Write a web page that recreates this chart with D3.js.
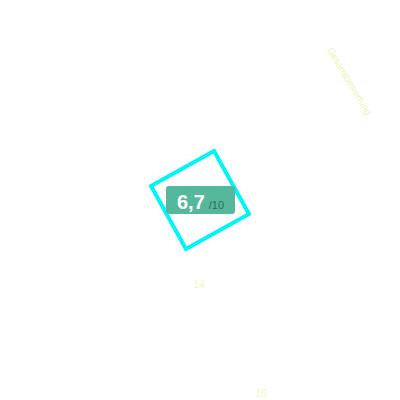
<!DOCTYPE html>
<html><head><meta charset="utf-8">
<script src="https://cdn.jsdelivr.net/npm/d3@7"></script>
<style>html,body{margin:0;padding:0;background:#fff;}svg{display:block;}</style>
</head><body>
<script>
const score = [6.7];
const scoreMax = [10];
const tickLabels = ["14", "16"];
const cornerLabel = ["Gesamtbewertung"];

const W = 400, H = 400;
const svg = d3.select("body").append("svg").attr("width", W).attr("height", H);

// scale for label positions
const x = d3.scaleLinear().domain([14, 16]).range([199, 261]);
const y = d3.scaleLinear().domain([14, 16]).range([288, 397]);

// rotated square frame
const side = d3.scaleLinear().domain([0, 10]).range([0, 72]);
const s = side(scoreMax[0]);
svg.append("rect")
  .attr("x", -s/2).attr("y", -s/2).attr("width", s).attr("height", s)
  .attr("fill", "none").attr("stroke", "#00f5f5").attr("stroke-width", 4)
  .attr("transform", "translate(200,200) rotate(-29)");

// badge
const g = svg.append("g").attr("transform", "translate(166,186)");
g.append("rect").attr("width", 69).attr("height", 28).attr("rx", 3)
  .attr("fill", "#55b79b");
const t = g.append("text").attr("x", 11).attr("y", 23)
  .attr("font-family", "Liberation Sans, Arial, sans-serif");
t.append("tspan").attr("fill", "#fff").attr("font-weight", "bold").attr("font-size", 20)
  .text(d3.format(".1f")(score[0]).replace(".", ","));
t.append("tspan").attr("fill", "#2f6e5a").attr("font-size", 11).attr("dx", 4)
  .text("/" + scoreMax[0]);

// tick labels
svg.selectAll("text.tick").data(tickLabels).enter().append("text")
  .attr("class", "tick")
  .attr("x", d => x(+d)).attr("y", d => y(+d))
  .attr("text-anchor", "middle")
  .attr("font-family", "Liberation Sans, Arial, sans-serif")
  .attr("font-size", 11).attr("fill", "#eef7c4")
  .text(d => d);

// rotated corner label
svg.append("text")
  .attr("transform", "translate(327,50) rotate(59)")
  .attr("font-family", "Liberation Sans, Arial, sans-serif")
  .attr("font-size", 9.4).attr("fill", "#ecf5b0")
  .text(cornerLabel[0]);
</script>
</body></html>
